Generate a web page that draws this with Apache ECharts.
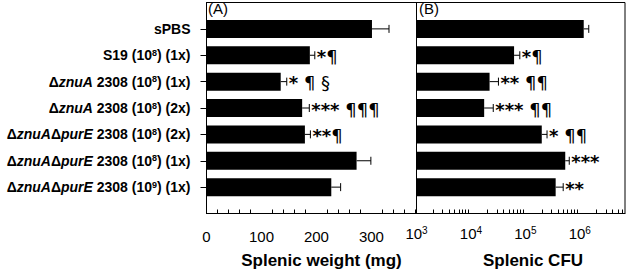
<!DOCTYPE html>
<html>
<head>
<meta charset="utf-8">
<script src="https://cdn.jsdelivr.net/npm/echarts@6/dist/echarts.min.js"></script>
<style>
  html, body { margin: 0; padding: 0; background: #fff; }
  #chart { width: 630px; height: 273px; }
</style>
</head>
<body>
<div id="chart"></div>
<script>
// groups, top to bottom
const groups = [
  'sPBS',
  'S19 (10^8) (1x)',
  'ΔznuA 2308 (10^8) (1x)',
  'ΔznuA 2308 (10^8) (2x)',
  'ΔznuAΔpurE 2308 (10^8) (2x)',
  'ΔznuAΔpurE 2308 (10^8) (1x)',
  'ΔznuAΔpurE 2308 (10^9) (1x)'
];
// (A) splenic weight, mg
const weight = [301, 188, 135, 174, 179, 273, 227];
const weightErr = [31, 9, 11, 13, 10, 26, 17];
const weightMarks = ['', '*¶', '* ¶ §', '*** ¶¶¶', '**¶', '', ''];
// (B) splenic CFU
const cfu = [1.18e6, 6.2e4, 2.2e4, 1.75e4, 2.0e5, 5.4e5, 3.6e5];
const cfuErr = [2.8e5, 1.7e4, 1.0e4, 8.2e3, 5.0e4, 1.0e5, 1.35e5];
const cfuMarks = ['', '*¶', '** ¶¶', '*** ¶¶', '* ¶¶', '***', '**'];
// axis ticks
const weightTicks = [0, 100, 200, 300];
const weightMinor = [20, 40, 60, 80, 120, 140, 160, 180, 220, 240, 260, 280, 320, 340, 360, 380];
const cfuDecades = [3, 4, 5, 6];

const FONT = '"Liberation Sans", Arial, sans-serif';
const MARKFONT = '"DejaVu Sans", sans-serif';
const log10 = Math.log10;

// blank slot above and below so the bars sit where they do in the figure
const cats = [''].concat(groups, ['']);
const pad = arr => [null].concat(arr, [null]);

const cfuMinor = [];
cfuDecades.forEach((d) => {
  for (let k = 2; k <= 9; k++) {
    const v = d + log10(k);
    if (v < 6.83) cfuMinor.push(v);
  }
});

function richName(name) {
  return name
    .replace(/(znuA|purE)/g, '{i|$1}')
    .replace(/\^(\d)/g, '{s|$1}');
}

// stars sit a bit lower than the pilcrows / section signs
function richMark(m) {
  const k = m.search(/[^*]/);
  const stars = k < 0 ? m : m.slice(0, k);
  const rest = k < 0 ? '' : m.slice(k);
  return (stars ? '{st|' + stars + '}' : '') + (rest ? '{r|' + rest + '}' : '');
}

function errItem(marks) {
  return function (params, api) {
    const p0 = api.coord([api.value(0), api.value(2)]);
    const p1 = api.coord([api.value(1), api.value(2)]);
    const m = marks[api.value(3)];
    return {
      type: 'group',
      children: [
        { type: 'line', shape: { x1: p0[0], y1: p0[1], x2: p1[0], y2: p1[1] }, style: { stroke: '#000', lineWidth: 1 } },
        { type: 'line', shape: { x1: p1[0], y1: p1[1] - 4, x2: p1[0], y2: p1[1] + 4 }, style: { stroke: '#000', lineWidth: 1 } },
        {
          type: 'text',
          style: {
            text: m ? richMark(m) : '', x: p1[0] + 2, y: p1[1] + 1,
            align: 'left', verticalAlign: 'middle',
            rich: {
              st: { fontSize: 18, fontWeight: 'bold', fontFamily: MARKFONT, lineHeight: 18, padding: [8, 0, 0, 0], verticalAlign: 'bottom', fill: '#000' },
              r: { fontSize: 18, fontFamily: MARKFONT, lineHeight: 18, fill: '#000' }
            }
          }
        }
      ]
    };
  };
}

const gridTop = 2.5, gridHeight = 211;
const gridA = { left: 206.5, top: gridTop, width: 210, height: gridHeight };
const gridB = { left: 416.5, top: gridTop, width: 208.5, height: gridHeight };

// short ticks live on their own (invisible) grids laid over the two panels
function minorX(grid, min, max, ticks) {
  return {
    gridIndex: grid, type: 'value', position: 'bottom', min: min, max: max,
    splitLine: { show: false },
    axisLine: { show: true, lineStyle: { color: '#000' } },
    axisTick: { show: true, inside: true, customValues: ticks, length: 4, lineStyle: { color: '#000' } },
    axisLabel: { show: false }
  };
}
function hiddenY(grid) {
  return { gridIndex: grid, type: 'value', show: false, min: 0, max: 1 };
}

const chart = echarts.init(document.getElementById('chart'), null, { renderer: 'svg' });

const options = {
  animation: false,
  textStyle: { fontFamily: FONT, color: '#000' },
  grid: [
    Object.assign({ show: true, borderColor: '#000', borderWidth: 1 }, gridA),
    Object.assign({ show: true, borderColor: '#000', borderWidth: 1 }, gridB),
    Object.assign({ show: false }, gridA),
    Object.assign({ show: false }, gridB)
  ],
  graphic: [
    { type: 'text', left: 208, top: 1, style: { text: '(A)', font: '15px ' + FONT, fill: '#000' } },
    { type: 'text', left: 419, top: 1, style: { text: '(B)', font: '15px ' + FONT, fill: '#000' } },
    {
      type: 'text', x: 321.5, y: 260.5,
      style: { text: 'Splenic weight (mg)', font: 'bold 17px ' + FONT, fill: '#000', align: 'center', verticalAlign: 'middle' }
    },
    {
      type: 'text', x: 533, y: 260.5,
      style: { text: 'Splenic CFU', font: 'bold 17px ' + FONT, fill: '#000', align: 'center', verticalAlign: 'middle' }
    }
  ],
  xAxis: [
    {
      gridIndex: 0, type: 'value', position: 'bottom', min: 0, max: 382,
      splitLine: { show: false },
      axisLine: { lineStyle: { color: '#000' } },
      axisTick: { customValues: weightTicks, length: 7, lineStyle: { color: '#000' } },
      axisLabel: { customValues: weightTicks, margin: 15, fontSize: 15, color: '#000', fontFamily: FONT }
    },
    {
      gridIndex: 1, type: 'value', position: 'bottom', min: 3, max: 6.83,
      splitLine: { show: false },
      axisLine: { lineStyle: { color: '#000' } },
      axisTick: { customValues: cfuDecades, length: 7, lineStyle: { color: '#000' } },
      axisLabel: {
        customValues: cfuDecades, margin: 12, color: '#000', fontFamily: FONT,
        formatter: v => '{b|10}{s|' + v + '}',
        rich: {
          b: { fontSize: 15, lineHeight: 15, verticalAlign: 'bottom', color: '#000', fontFamily: FONT },
          s: { fontSize: 10, lineHeight: 10, padding: [0, 0, 8, 0], verticalAlign: 'top', color: '#000', fontFamily: FONT }
        }
      }
    },
    minorX(2, 0, 382, weightMinor),
    minorX(3, 3, 6.83, cfuMinor)
  ],
  yAxis: [
    {
      gridIndex: 0, type: 'category', data: cats, inverse: true, boundaryGap: false,
      axisLine: { lineStyle: { color: '#000' } },
      axisTick: { length: 6, interval: (i, v) => v !== '', lineStyle: { color: '#000' } },
      axisLabel: {
        interval: 0, margin: 16, fontSize: 14, fontWeight: 'bold', color: '#000', fontFamily: FONT,
        formatter: richName,
        rich: {
          i: { fontSize: 14, fontWeight: 'bold', fontStyle: 'italic', color: '#000', fontFamily: FONT },
          s: { fontSize: 9, verticalAlign: 'top', color: '#000', fontFamily: FONT }
        }
      }
    },
    {
      gridIndex: 1, type: 'category', data: cats, inverse: true, boundaryGap: false,
      axisLine: { lineStyle: { color: '#000' } },
      axisTick: { show: false },
      axisLabel: { show: false }
    },
    hiddenY(2),
    hiddenY(3)
  ],
  series: [
    {
      name: 'Splenic weight', type: 'bar', xAxisIndex: 0, yAxisIndex: 0,
      data: pad(weight), barWidth: 18, itemStyle: { color: '#000' }, clip: true
    },
    {
      name: 'Splenic weight error', type: 'custom', xAxisIndex: 0, yAxisIndex: 0,
      encode: { x: [0, 1], y: 2 },
      data: weight.map((v, i) => [v, v + weightErr[i], i + 1, i]),
      renderItem: errItem(weightMarks)
    },
    {
      name: 'Splenic CFU', type: 'bar', xAxisIndex: 1, yAxisIndex: 1,
      data: pad(cfu.map(log10)), barWidth: 18, itemStyle: { color: '#000' }, clip: true
    },
    {
      name: 'Splenic CFU error', type: 'custom', xAxisIndex: 1, yAxisIndex: 1,
      encode: { x: [0, 1], y: 2 },
      data: cfu.map((v, i) => [log10(v), log10(v + cfuErr[i]), i + 1, i]),
      renderItem: errItem(cfuMarks)
    }
  ]
};

chart.setOption(options);
</script>
</body>
</html>
